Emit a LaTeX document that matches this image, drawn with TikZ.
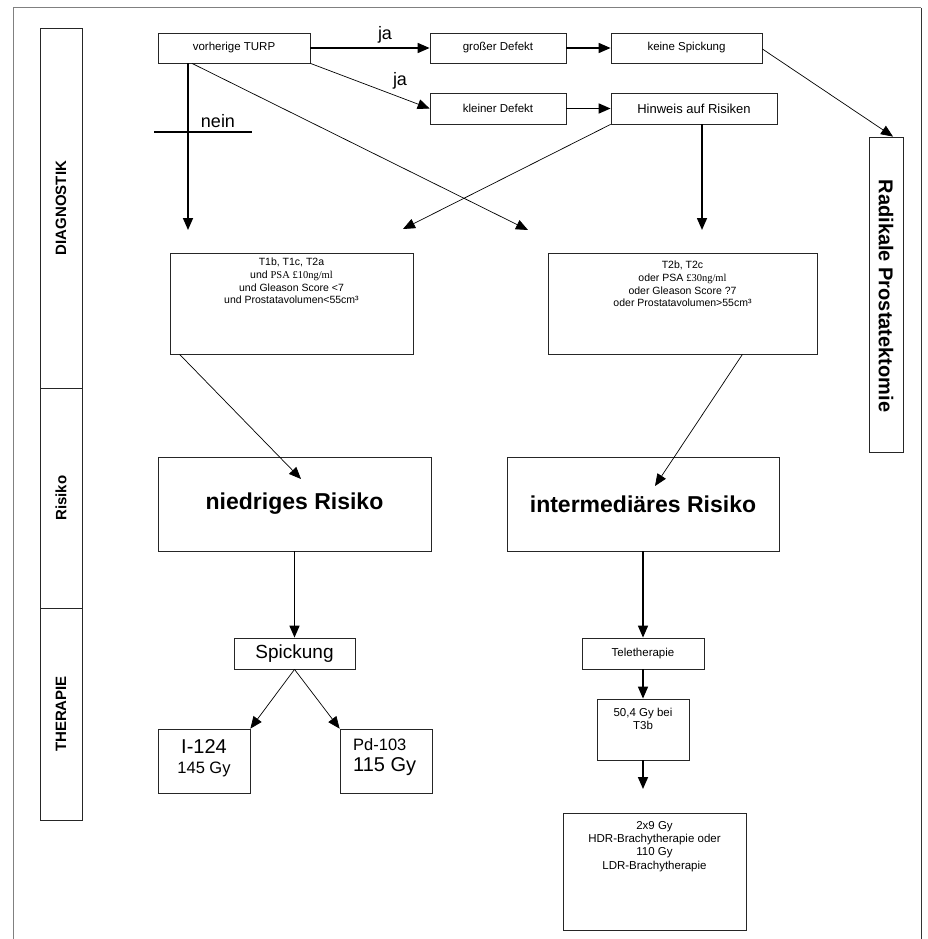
\documentclass[tikz,border=0pt]{standalone}
\usepackage{fontspec}
\setmainfont{Liberation Sans}
\newfontfamily\tnr{Liberation Serif}
\usetikzlibrary{arrows.meta}
\begin{document}
\begin{tikzpicture}[x=1pt,y=-1pt,
  box/.style={draw=black!85, line width=0.8pt, inner sep=0pt, align=center},
  txt/.style={inner sep=0pt, align=center},
  thickarr/.style={line width=1.6pt, -{Triangle[length=12pt,width=10pt]}},
  thinarr/.style={line width=0.7pt, -{Triangle[length=12pt,width=10pt]}},
  lab/.style={inner sep=0pt, font=\bfseries\fontsize{15}{17}\selectfont},
]
\useasboundingbox (0,0) rectangle (927,939);
% outer frame
\draw[gray, line width=1pt] (13,939) -- (13,8) -- (921,8);
\draw[black!80, line width=1pt] (921,8) -- (921,939);

% left column
\node[box, minimum width=42pt, minimum height=360pt] (diag) at (61,208) {};
\node[lab, rotate=90] (diagT) at (diag.center) {DIAGNOSTIK};
\node[box, minimum width=42pt, minimum height=220pt] (risk) at (61,498) {};
\node[lab, rotate=90] (riskT) at (risk.center) {Risiko};
\node[box, minimum width=42pt, minimum height=212pt] (ther) at (61,714) {};
\node[lab, rotate=90] (therT) at (ther.center) {THERAPIE};

% top row
\node[box, minimum width=152pt, minimum height=30pt, font=\fontsize{11.5}{13}\selectfont] (turp) at (234,48) {vorherige TURP};
\node[box, minimum width=136pt, minimum height=30pt, font=\fontsize{11.5}{13}\selectfont] (gross) at (498,48) {großer Defekt};
\node[box, minimum width=151pt, minimum height=30pt, font=\fontsize{11.5}{13}\selectfont] (keine) at (686.5,48) {keine Spickung};
\node[box, minimum width=136pt, minimum height=31pt, font=\fontsize{11.5}{13}\selectfont] (klein) at (498,108.5) {kleiner Defekt};
\node[box, minimum width=166pt, minimum height=31pt, font=\fontsize{13}{15}\selectfont] (hinweis) at (694,108.5) {Hinweis auf Risiken};

% Radikale Prostatektomie
\node[box, minimum width=34pt, minimum height=315pt] (rad) at (886,294.5) {};
\node[inner sep=0pt, rotate=-90, font=\bfseries\fontsize{20}{22}\selectfont] (radT) at (886,296) {Radikale Prostatektomie};

% labels
\node[txt, font=\fontsize{18}{20}\selectfont] (ja1) at (385,35) {ja};
\node[txt, font=\fontsize{18}{20}\selectfont] (ja2) at (400,81) {ja};
\node[txt, font=\fontsize{18}{20}\selectfont] (nein) at (218,121) {nein};
\coordinate (nl) at (154,132);
\coordinate (nr) at (252,132);
\draw[line width=1.5pt] (nl) -- (nr);

% criteria boxes
\node[box, minimum width=243pt, minimum height=101pt] (lowc) at (291.5,303.5) {};
\node[txt, anchor=north, font=\fontsize{10.5}{12.7}\selectfont] (lowcT) at (291.5,258) {T1b, T1c, T2a\\und {\tnr PSA £10ng/ml}\\und Gleason Score <7\\und Prostatavolumen<55cm³};
\node[box, minimum width=269pt, minimum height=101pt] (intc) at (682.5,303.5) {};
\node[txt, anchor=north, font=\fontsize{10.5}{12.7}\selectfont] (intcT) at (682.5,261) {T2b, T2c\\oder PSA {\tnr £30ng/ml}\\oder Gleason Score ?7\\oder Prostatavolumen>55cm³};

% risk boxes
\node[box, minimum width=273pt, minimum height=94pt, font=\bfseries\fontsize{23}{25}\selectfont] (niedrig) at (294.5,504) {niedriges Risiko};
\node[box, minimum width=272pt, minimum height=94pt, font=\bfseries\fontsize{23}{25}\selectfont] (inter) at (643,504) {intermediäres Risiko};

% therapy left
\node[box, minimum width=121pt, minimum height=31pt, font=\fontsize{19}{21}\selectfont] (spick) at (294.5,653.5) {Spickung};
\node[box, minimum width=92pt, minimum height=64pt] (iod) at (204,761) {};
\node[txt, font=\fontsize{20}{22}\selectfont] (iodA) at (204,747) {I-124};
\node[txt, font=\fontsize{16.5}{18}\selectfont] (iodB) at (204,769) {145 Gy};
\node[box, minimum width=92pt, minimum height=64pt] (pd) at (386,761) {};
\node[txt, anchor=west, font=\fontsize{16.5}{18}\selectfont] (pdA) at (353,745) {Pd-103};
\node[txt, anchor=west, font=\fontsize{20}{22}\selectfont] (pdB) at (353,767) {115 Gy};

% therapy right
\node[box, minimum width=122pt, minimum height=31pt, font=\fontsize{11.5}{13}\selectfont] (tele) at (643,653.5) {Teletherapie};
\node[box, minimum width=92pt, minimum height=61pt] (fifty) at (643,729.5) {};
\node[txt, anchor=north, font=\fontsize{11.5}{13.3}\selectfont] (fiftyT) at (643,708) {50,4 Gy bei\\T3b};
\node[box, minimum width=183pt, minimum height=117pt] (hdr) at (654.5,871.5) {};
\node[txt, anchor=north, font=\fontsize{11.5}{13.3}\selectfont] (hdrT) at (654.5,821) {2x9 Gy\\HDR-Brachytherapie oder\\110 Gy\\LDR-Brachytherapie};

% free ends
\coordinate (n1) at (188,230);
\coordinate (d1) at (528,230);
\coordinate (d2) at (403,229);
\coordinate (d3) at (702,230);
\coordinate (r1) at (301,479);
\coordinate (r2) at (655,486);
\coordinate (f1) at (643,789);

% connectors
\draw[thickarr] (turp.east) -- (gross.west);
\draw[thickarr] (gross.east) -- (keine.west);
\draw[thinarr] (turp.south east) -- (klein.west);
\draw[thickarr] (klein.east) -- (hinweis.west);
\draw[thickarr] (turp.south -| n1) -- (n1);
\draw[thinarr] ([xshift=-42pt]turp.south) -- (d1);
\draw[thinarr] (hinweis.south west) -- (d2);
\draw[thickarr] (hinweis.south -| d3) -- (d3);
\draw[thinarr] ([yshift=-1pt]keine.east) -- ([xshift=7pt]rad.north);
\draw[thinarr] ([xshift=10pt]lowc.south west) -- (r1);
\draw[thinarr] ([xshift=-75pt]intc.south east) -- (r2);
\draw[thickarr] (niedrig.south) -- (spick.north);
\draw[thickarr] (inter.south) -- (tele.north);
\draw[thinarr] (spick.south) -- (iod.north east);
\draw[thinarr] (spick.south) -- (pd.north west);
\draw[thickarr] (tele.south) -- (fifty.north);
\draw[thickarr] (fifty.south) -- (f1);
\end{tikzpicture}
\end{document}
